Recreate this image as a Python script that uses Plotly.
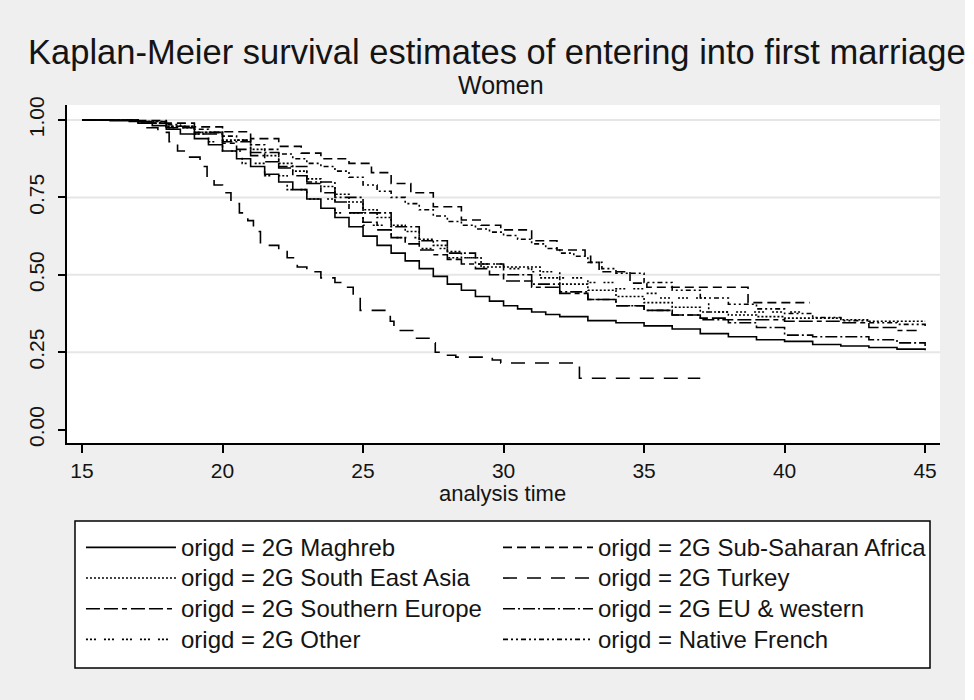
import plotly.graph_objects as go

# Kaplan-Meier step estimates: age at which the step starts, survival S(t)
maghreb_t = [15, 16, 17, 17.5, 18, 18.5, 19, 19.5, 20, 20.5, 21, 21.5, 22, 22.5, 23, 23.5, 24, 24.5, 25, 25.5,
             26, 26.5, 27, 27.5, 28, 28.5, 29, 29.5, 30, 30.5, 31, 31.5, 32, 33, 34, 35, 36, 37, 38, 39,
             40, 41, 42, 43, 44, 45]
maghreb_s = [1.0, 0.998, 0.99, 0.982, 0.97, 0.955, 0.94, 0.92, 0.90, 0.875, 0.85, 0.825, 0.80, 0.775, 0.745, 0.715,
             0.685, 0.655, 0.625, 0.595, 0.57, 0.545, 0.52, 0.495, 0.47, 0.45, 0.43, 0.415, 0.40, 0.39,
             0.38, 0.372, 0.365, 0.352, 0.345, 0.335, 0.325, 0.31, 0.30, 0.29, 0.285, 0.275, 0.27, 0.265, 0.26, 0.256]

subsah_t = [15, 17, 18, 19, 20, 21, 22, 22.8, 23.5, 24.5, 25.3, 26, 26.7, 27.5, 28.5, 29.2, 29.9, 31, 31.9, 32.9,
            33.1, 33.4, 34.5, 35.1, 38.7, 40.9]
subsah_s = [1.0, 0.998, 0.99, 0.978, 0.962, 0.94, 0.915, 0.893, 0.875, 0.86, 0.83, 0.795, 0.765, 0.72, 0.677, 0.66,
            0.645, 0.61, 0.58, 0.56, 0.54, 0.51, 0.473, 0.46, 0.41, 0.41]

sea_t = [15, 17, 18, 19, 20, 21, 21.5, 22, 22.5, 23, 23.5, 24, 24.5, 25, 25.5, 26, 26.5, 27, 27.5, 28,
         28.5, 29.2, 31.3, 32, 33, 34, 35, 36, 37, 38, 39, 40, 42, 43, 45]
sea_s = [1.0, 0.995, 0.98, 0.96, 0.935, 0.905, 0.885, 0.86, 0.835, 0.81, 0.785, 0.76, 0.735, 0.71, 0.685, 0.66,
         0.64, 0.615, 0.595, 0.575, 0.555, 0.525, 0.49, 0.47, 0.45, 0.43, 0.41, 0.395, 0.38, 0.37,
         0.365, 0.36, 0.355, 0.35, 0.35]

turkey_t = [15, 16.5, 17.2, 17.7, 18.1, 18.4, 18.75, 19.2, 19.45, 19.7, 20.0, 20.3, 20.6, 20.9, 21.1, 21.35,
            22.0, 22.3, 22.66, 23.0, 23.5, 24.0, 24.3, 24.65, 24.9, 25.97, 26.1, 26.8, 27.4, 27.57,
            27.9, 28.3, 29.6, 29.9, 32.7, 37.0]
turkey_s = [1.0, 0.995, 0.975, 0.96, 0.93, 0.90, 0.88, 0.85, 0.81, 0.79, 0.765, 0.73, 0.70, 0.675, 0.64, 0.595,
            0.575, 0.555, 0.525, 0.51, 0.49, 0.475, 0.46, 0.43, 0.385, 0.35, 0.32, 0.295, 0.28, 0.25,
            0.24, 0.234, 0.225, 0.215, 0.166, 0.166]

southeu_t = [15, 17, 18, 19, 20, 20.5, 21, 21.5, 22, 22.5, 23, 23.5, 24, 24.5, 25, 25.5, 26, 26.5, 27, 27.5,
             28, 28.5, 29, 29.5, 30, 31, 32, 33, 34, 35, 36, 37, 38, 40, 42, 43, 44, 44.7]
southeu_s = [1.0, 0.99, 0.975, 0.955, 0.925, 0.905, 0.885, 0.865, 0.845, 0.82, 0.795, 0.765, 0.735, 0.70, 0.67,
             0.645, 0.62, 0.60, 0.58, 0.565, 0.55, 0.535, 0.52, 0.50, 0.48, 0.46, 0.44, 0.42, 0.40, 0.385,
             0.37, 0.36, 0.355, 0.35, 0.345, 0.33, 0.32, 0.32]

euwest_t = [15, 17, 18, 19, 20, 21, 22, 23, 24, 25, 26, 27, 28, 29, 30, 31, 32, 33, 34, 35,
            36, 37, 38, 39, 40, 41, 43, 44, 45]
euwest_s = [1.0, 0.995, 0.98, 0.96, 0.93, 0.895, 0.85, 0.80, 0.75, 0.70, 0.655, 0.61, 0.57, 0.535, 0.50, 0.47,
            0.445, 0.42, 0.40, 0.385, 0.37, 0.355, 0.345, 0.33, 0.305, 0.30, 0.29, 0.28, 0.27]

other_t = [15, 17, 18, 19, 19.5, 20, 20.7, 21.5, 22.3, 23, 24, 25, 26, 27, 28, 29, 30, 31, 32, 33,
           34, 35, 35.5, 37.3, 40.7]
other_s = [1.0, 0.99, 0.975, 0.955, 0.93, 0.90, 0.86, 0.82, 0.775, 0.745, 0.70, 0.66, 0.62, 0.585, 0.555, 0.535,
           0.52, 0.51, 0.49, 0.475, 0.455, 0.44, 0.425, 0.38, 0.38]

native_t = [15, 16, 17, 17.5, 18, 18.5, 19, 19.5, 20, 20.5, 21, 21.5, 22, 22.5, 23, 23.5, 24, 24.5, 25, 25.5,
            26, 26.5, 27, 27.5, 28, 28.5, 29, 29.5, 30, 30.5, 31, 31.5, 32, 32.5, 33, 33.5, 34, 35, 36, 37,
            38, 39, 40, 41, 42, 43, 44, 45]
native_s = [1.0, 0.999, 0.995, 0.99, 0.985, 0.978, 0.97, 0.96, 0.948, 0.935, 0.92, 0.905, 0.89, 0.875, 0.86, 0.85,
            0.835, 0.815, 0.79, 0.77, 0.75, 0.73, 0.71, 0.69, 0.672, 0.66, 0.648, 0.638, 0.627, 0.615,
            0.6, 0.585, 0.57, 0.56, 0.54, 0.52, 0.505, 0.475, 0.45, 0.425, 0.405, 0.39, 0.375, 0.362,
            0.352, 0.345, 0.34, 0.335]

# (label, times, survival, dash pattern, legend column)
series = [
    ("origd = 2G Maghreb", maghreb_t, maghreb_s, "solid", "legend"),
    ("origd = 2G South East Asia", sea_t, sea_s, "2px,2px", "legend"),
    ("origd = 2G Southern Europe", southeu_t, southeu_s, "14px,4px,14px,4px,5px,4px", "legend"),
    ("origd = 2G Other", other_t, other_s, "2px,2px,2px,2px,2px,8px", "legend"),
    ("origd = 2G Sub-Saharan Africa", subsah_t, subsah_s, "9px,5px", "legend2"),
    ("origd = 2G Turkey", turkey_t, turkey_s, "14px,10px", "legend2"),
    ("origd = 2G EU & western", euwest_t, euwest_s, "12px,3px,2px,3px", "legend2"),
    ("origd = Native French", native_t, native_s, "5px,3px,2px,3px,2px,3px", "legend2"),
]

x_ticks = [15, 20, 25, 30, 35, 40, 45]
y_ticks = [0.0, 0.25, 0.5, 0.75, 1.0]
y_tick_text = ["0.00", "0.25", "0.50", "0.75", "1.00"]
grid_y = [0.25, 0.5, 0.75, 1.0]

SANS = "Liberation Sans, Arial, sans-serif"
INK = "#141414"

fig = go.Figure()
for name, t, s, dash, leg in series:
    assert len(t) == len(s)
    fig.add_trace(go.Scatter(
        x=t, y=s, mode="lines", name='<span style="font-size:24px">' + name + "</span>",
        line=dict(color="black", width=1.6, dash=dash, shape="hv"),
        legend=leg, hoverinfo="skip",
    ))

# horizontal grid lines (none at zero)
for gy in grid_y:
    fig.add_shape(type="line", xref="paper", x0=0, x1=1, yref="y", y0=gy, y1=gy,
                  line=dict(color="#e6e6e6", width=2), layer="below")

# legend frame, white strips at the outer edge of the graph region
fig.add_shape(type="rect", xref="paper", yref="paper", x0=0.00916, x1=0.98855, y0=-0.6657, y1=-0.2308,
              fillcolor="white", line=dict(color="black", width=1.5), layer="below")
fig.add_shape(type="rect", xref="paper", yref="paper", x0=1.0286, x1=1.05, y0=-0.8, y1=1.35,
              fillcolor="white", line=dict(width=0), layer="below")
fig.add_shape(type="rect", xref="paper", yref="paper", x0=-0.1, x1=1.05, y0=1.3105, y1=1.35,
              fillcolor="white", line=dict(width=0), layer="below")

fig.add_annotation(text="Kaplan-Meier survival estimates of entering into first marriage",
                   xref="paper", yref="paper", x=0.4926, y=1.1568, showarrow=False,
                   xanchor="center", yanchor="middle", font=dict(family=SANS, size=34.5, color=INK))
fig.add_annotation(text="Women", xref="paper", yref="paper", x=0.4977, y=1.059, showarrow=False,
                   xanchor="center", yanchor="middle", font=dict(family=SANS, size=25, color=INK))
fig.add_annotation(text="analysis time", xref="paper", yref="paper", x=0.4983, y=-0.148, showarrow=False,
                   xanchor="center", yanchor="middle", font=dict(family=SANS, size=22, color=INK))

legend_common = dict(orientation="v", y=-0.2485, xanchor="left", yanchor="top",
                     bgcolor="rgba(0,0,0,0)", borderwidth=0,
                     font=dict(family=SANS, size=21.3, color=INK),
                     itemwidth=90, traceorder="normal", tracegroupgap=0)

fig.update_layout(
    width=974, height=700,
    margin=dict(l=67, r=34, t=105, b=257, autoexpand=False),
    paper_bgcolor="#efefef", plot_bgcolor="white",
    showlegend=True,
    legend=dict(x=0.016, **legend_common),
    legend2=dict(x=0.4937, **legend_common),
    xaxis=dict(range=[14.466, 45.53], tickvals=x_ticks, ticks="outside", ticklen=8, tickwidth=1.5,
               tickcolor="black", showline=True, linecolor="black", linewidth=1.5, showgrid=False,
               zeroline=False, tickfont=dict(family=SANS, size=21, color=INK)),
    yaxis=dict(range=[-0.0433, 1.0485], tickvals=y_ticks, ticktext=y_tick_text, tickangle=-90,
               ticks="outside", ticklen=7, tickwidth=1.5, tickcolor="black", showline=True,
               linecolor="black", linewidth=1.5, showgrid=False, zeroline=False,
               ticklabelstandoff=6, tickfont=dict(family=SANS, size=21, color=INK)),
)

fig.write_html("out.html")
